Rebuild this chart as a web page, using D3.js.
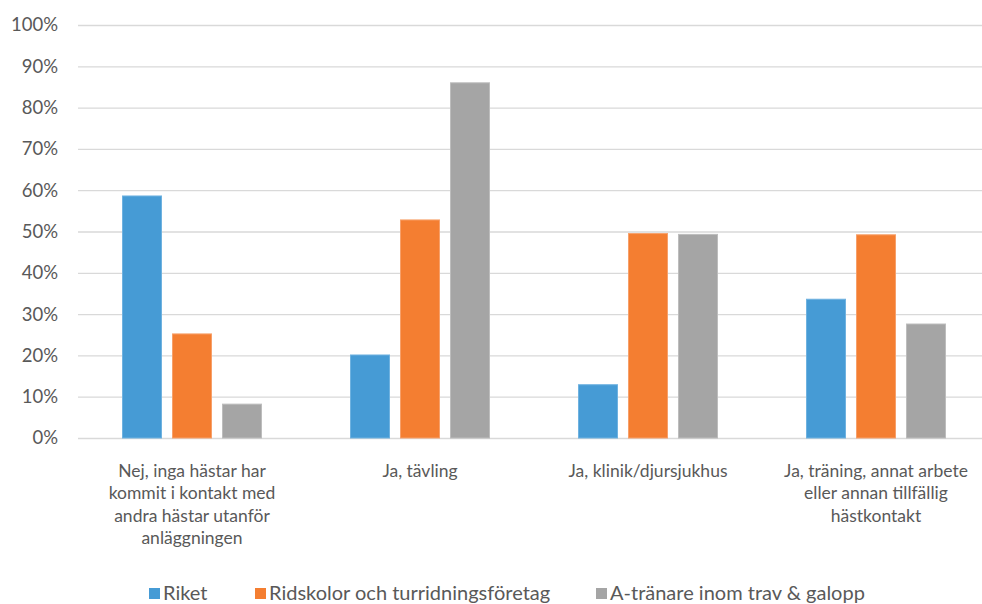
<!DOCTYPE html>
<html><head><meta charset="utf-8">
<script src="https://cdn.jsdelivr.net/npm/d3@7"></script>
<style>
html,body{margin:0;padding:0;background:#fff;}
svg text{font-family:"Lato","Open Sans",sans-serif;fill:#595959;}
</style></head>
<body><svg id="c" width="982" height="604"></svg>
<script>
const categories = [
  ["Nej, inga hästar har","kommit i kontakt med","andra hästar utanför","anläggningen"],
  ["Ja, tävling"],
  ["Ja, klinik/djursjukhus"],
  ["Ja, träning, annat arbete","eller annan tillfällig","hästkontakt"]
];
const seriesNames = ["Riket","Ridskolor och turridningsföretag","A-tränare inom trav & galopp"];
const riket = [58.6, 20.1, 12.9, 33.6];
const ridskolor = [25.2, 52.8, 49.5, 49.2];
const atranare = [8.2, 86.0, 49.3, 27.6];
const colors = ["#469BD5","#F47E31","#A5A5A5"];
const strokes = ["#6FB2E0","#F7A06A","#BDBDBD"];
const yTicks = [0,10,20,30,40,50,60,70,80,90,100];

(function(){
const series = [riket, ridskolor, atranare];
const svg = d3.select("#c");
const pl = 78, pr = 990, pt = 25, pb = 438;
const x0 = d3.scaleBand().domain(d3.range(categories.length)).range([pl,pr]).paddingInner(0).paddingOuter(0);
const groupW = 140;
const x1 = d3.scaleBand().domain(d3.range(series.length)).range([0,groupW]).paddingInner(0.2);
const y = d3.scaleLinear().domain([0,100]).range([pb,pt]);

svg.append("g").selectAll("line").data(yTicks).join("line")
  .attr("x1",pl).attr("x2",pr)
  .attr("y1",d=>y(d)+0.5).attr("y2",d=>y(d)+0.5)
  .attr("stroke","#D9D9D9").attr("stroke-width",1.3);

const yAxis = d3.axisLeft(y).tickValues(yTicks).tickFormat(d=>d+"%").tickSize(0).tickPadding(0);
const ya = svg.append("g").attr("transform",`translate(58,0)`).call(yAxis);
ya.select(".domain").remove();
ya.selectAll("text").style("font-size","18.5px").attr("fill","#595959").attr("font-family",null);

categories.forEach((c,i)=>{
  const gx = x0(i) + (x0.bandwidth()-groupW)/2;
  series.forEach((s,j)=>{
    svg.append("rect")
      .attr("x", gx + x1(j) + 0.5)
      .attr("y", y(s[i]))
      .attr("width", x1.bandwidth() - 1)
      .attr("height", y(0) - y(s[i]))
      .attr("fill", colors[j])
      .attr("stroke", strokes[j]).attr("stroke-width",1);
  });
  const t = svg.append("text").attr("text-anchor","middle").style("font-size","17.5px");
  c.forEach((line,k)=>{
    t.append("tspan").attr("x", x0(i)+x0.bandwidth()/2).attr("y", 476.5 + k*22.5).text(line);
  });
});

const legSq = [149, 255, 596];
seriesNames.forEach((n,j)=>{
  svg.append("rect").attr("x",legSq[j]).attr("y",588).attr("width",11).attr("height",11).attr("fill",colors[j]);
  svg.append("text").attr("x",legSq[j]+14).attr("y",600).style("font-size","20px").text(n);
});
})();
</script></body></html>
